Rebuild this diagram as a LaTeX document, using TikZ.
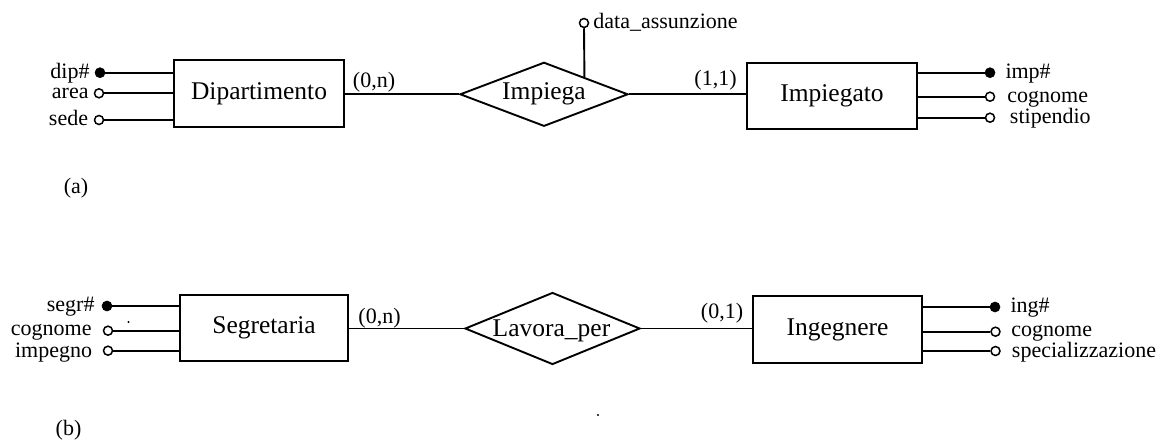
\documentclass[tikz,border=0pt]{standalone}
\usepackage{fontspec}
\setmainfont{Liberation Serif}
\usetikzlibrary{shapes.geometric,calc}
\newcommand\bigtxt{\fontsize{25.5}{28}\selectfont}
\newcommand\smalltxt{\fontsize{22}{24}\selectfont}
\tikzset{
  ent/.style={draw, rectangle, line width=1.9pt, inner sep=0pt, font=\bigtxt},
  rel/.style={draw, diamond, line width=1.9pt, inner sep=0pt},
  conn/.style={line width=1.9pt},
  keyatt/.style={circle, draw, fill, inner sep=0pt, minimum size=10pt, line width=0.6pt},
  att/.style={circle, draw, fill=white, inner sep=0pt, minimum size=9pt, line width=1.5pt},
  txt/.style={font=\smalltxt, inner sep=0pt},
  rtxt/.style={font=\bigtxt, inner sep=0pt},
  lt/.style={txt, anchor=base east, yshift=-5.5pt},
  rt/.style={txt, anchor=base west, yshift=-5.5pt},
  dotmark/.style={circle, fill, inner sep=0pt, minimum size=2.2pt}
}
\begin{document}
\begin{tikzpicture}[x=1pt, y=-1pt]
\useasboundingbox (0,0) rectangle (1164,439);

% ---------- (a) ----------
\node[ent, minimum width=170pt, minimum height=67pt] (dip) at (259,93.5) {Dipartimento};
\node[ent, minimum width=170pt, minimum height=66pt] (impd) at (832,96) {Impiegato};
\node[rel, minimum width=168pt, minimum height=64pt] (impg) at (544,94.3) {};
\node[rtxt] (impgt) at (impg.center) {Impiega};

\draw[conn] (dip.east |- impg.west) -- (impg.west);
\draw[conn] (impg.east) -- (impg.east -| impd.west);
\node[txt] (c1) at (374,82) {(0,n)};
\node[txt] (c2) at (715.5,80) {(1,1)};

% attribute of relationship
\node[att] (da) at (584,23) {};
\draw[conn] (da.south) -- ($(impg.north)!0.476!(impg.east)$);
\node[rt, xshift=4pt] (dat) at (da.east) {data\_assunzione};

% Dipartimento attributes
\node[keyatt] (dipk) at (100,72.7) {};
\node[att] (area) at (99,93.3) {};
\node[att] (sede) at (99,120) {};
\draw[conn] (dipk) -- (dipk -| dip.west);
\draw[conn] (area) -- (area -| dip.west);
\draw[conn] (sede) -- (sede -| dip.west);
\node[lt, xshift=-5pt] (tdipk) at (dipk.west) {dip\#};
\node[lt, xshift=-5pt] (tarea) at (area.west) {area};
\node[lt, xshift=-5.5pt] (tsede) at (sede.west) {sede};

% Impiegato attributes
\node[keyatt] (impk) at (990,72.7) {};
\node[att] (icog) at (990,96.7) {};
\node[att] (istip) at (990,117.7) {};
\draw[conn] (impk) -- (impk -| impd.east);
\draw[conn] (icog) -- (icog -| impd.east);
\draw[conn] (istip) -- (istip -| impd.east);
\node[rt, xshift=10pt] (timpk) at (impk.east) {imp\#};
\node[rt, xshift=12pt] (ticog) at (icog.east) {cognome};
\node[rt, xshift=14.5pt] (tistip) at (istip.east) {stipendio};

\node[txt] (la) at (76,188) {(a)};

% ---------- (b) ----------
\node[ent, minimum width=168pt, minimum height=66pt] (segr) at (264,328) {Segretaria};
\node[ent, minimum width=169pt, minimum height=67pt] (ing) at (837.5,329.5) {Ingegnere};
\node[rel, minimum width=175pt, minimum height=72pt] (lav) at (552.5,328.5) {};
\node[rtxt] (lavt) at (551.5,331) {Lavora\_per};

\draw[conn] (segr.east |- lav.west) -- (lav.west);
\draw[conn] (lav.east) -- (lav.east -| ing.west);
\node[txt] (c3) at (379.5,318) {(0,n)};
\node[txt] (c4) at (722,313) {(0,1)};

% Segretaria attributes
\node[keyatt] (segk) at (107,306) {};
\node[att] (scog) at (108,330.7) {};
\node[att] (simp) at (108,350.7) {};
\draw[conn] (segk) -- (segk -| segr.west);
\draw[conn] (scog) -- (scog -| segr.west);
\draw[conn] (simp) -- (simp -| segr.west);
\node[lt, xshift=-7pt] (tsegk) at (segk.west) {segr\#};
\node[lt, xshift=-11pt, yshift=1pt] (tscog) at (scog.west) {cognome};
\node[lt, xshift=-10.5pt, yshift=-1pt] (tsimp) at (simp.west) {impegno};

% Ingegnere attributes
\node[keyatt] (ingk) at (995,307) {};
\node[att] (gcog) at (995.5,331.7) {};
\node[att] (gspec) at (995.5,351) {};
\draw[conn] (ingk) -- (ingk -| ing.east);
\draw[conn] (gcog) -- (gcog -| ing.east);
\draw[conn] (gspec) -- (gspec -| ing.east);
\node[rt, xshift=10pt] (tingk) at (ingk.east) {ing\#};
\node[rt, xshift=10.5pt, yshift=1pt] (tgcog) at (gcog.east) {cognome};
\node[rt, xshift=11pt, yshift=-1pt] (tgspec) at (gspec.east) {specializzazione};

\node[txt] (lb) at (68.5,430) {(b)};

% stray dots
\node[dotmark] (d1) at (128.5,322) {};
\node[dotmark] (d2) at (598,415) {};
\end{tikzpicture}
\end{document}
